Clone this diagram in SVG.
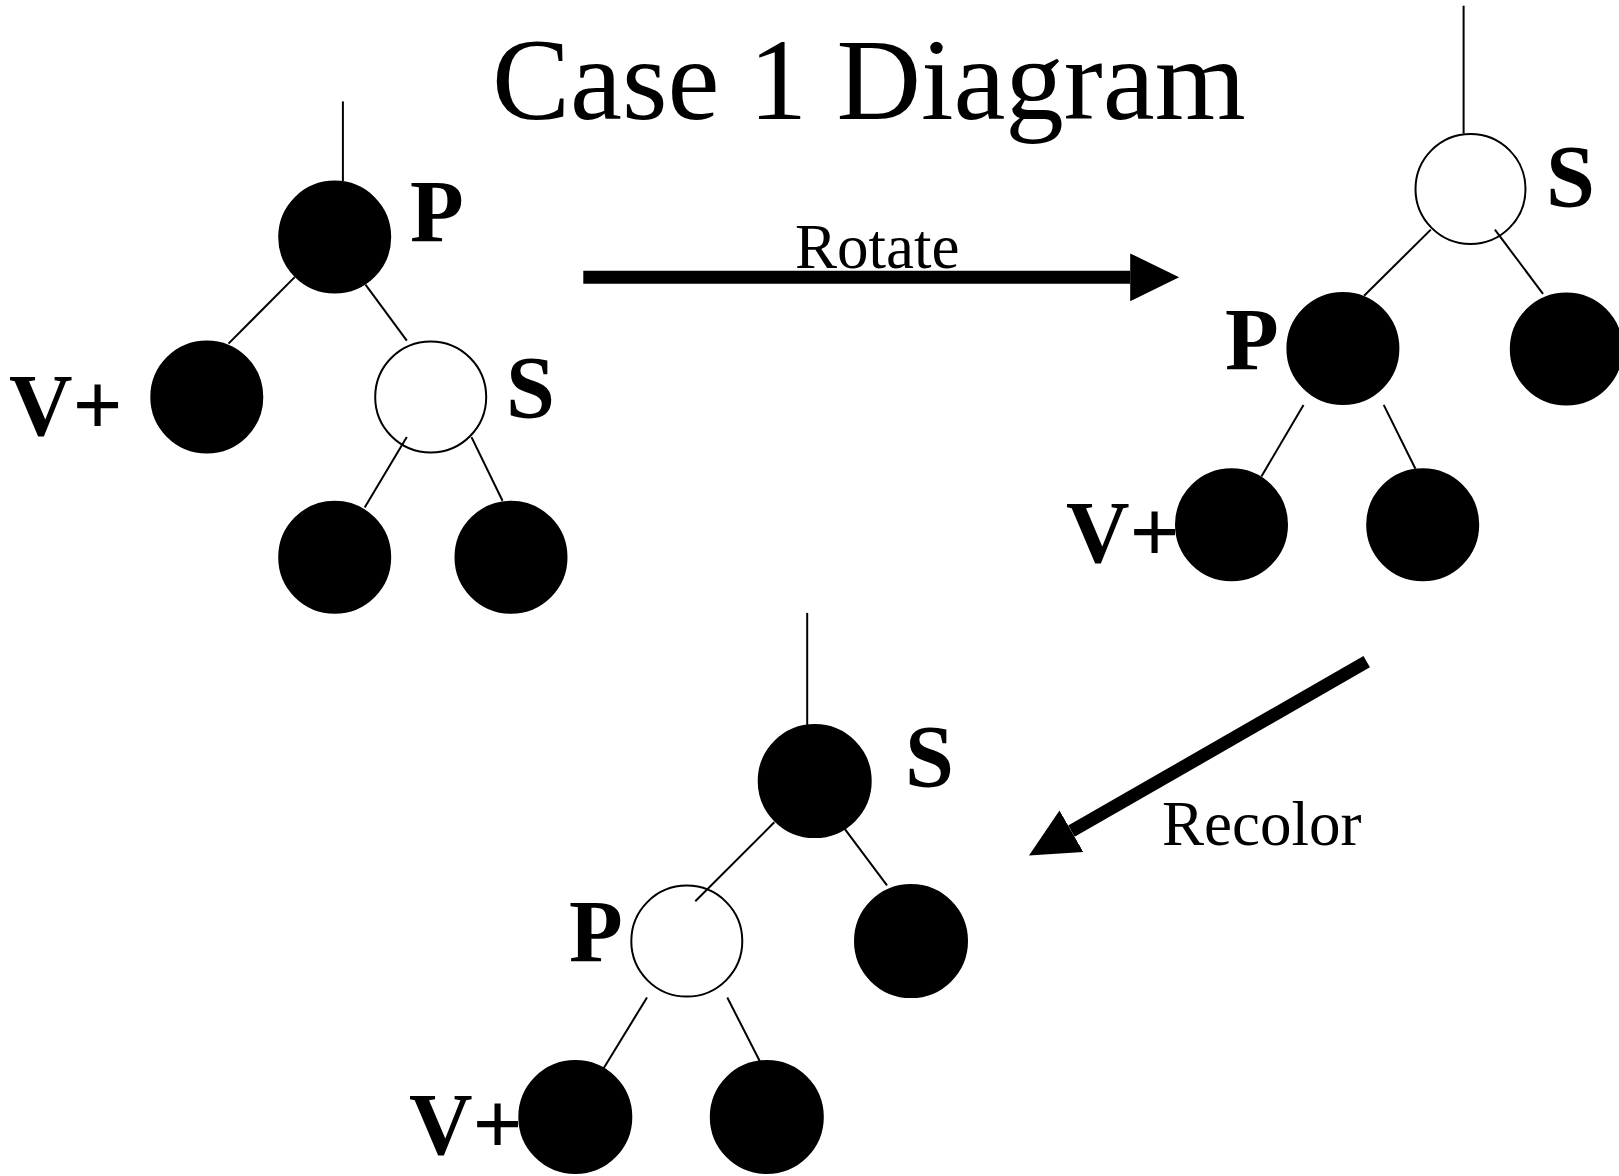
<svg xmlns="http://www.w3.org/2000/svg" width="1619" height="1176" viewBox="0 0 1619 1176">
  <style>
    .black { fill: #000; stroke: #000; stroke-width: 2; }
    .red { fill: #fff; stroke: #000; stroke-width: 2; }
    .edge { stroke: #000; stroke-width: 2; fill: none; }
    .label { font-family: "Liberation Serif", "Times New Roman", serif; font-weight: bold; font-size: 88px; fill: #000; }
    .step { font-family: "Liberation Serif", "Times New Roman", serif; font-size: 63px; fill: #000; }
    .title { font-family: "Liberation Serif", "Times New Roman", serif; font-size: 117px; fill: #000; }
    .bigarrow { stroke: #000; stroke-width: 13; fill: none; marker-end: url(#head); }
  </style>
  <defs>
    <marker id="head" markerUnits="userSpaceOnUse" markerWidth="50" markerHeight="50" viewBox="0 -23 46 46" refX="0" refY="0" orient="auto">
      <path d="M0,-22 L45,0 L0,22 Z" fill="#000"/>
    </marker>
  </defs>
  <rect width="1619" height="1176" fill="#fff"/>

  <text class="title" x="492" y="119">Case 1 Diagram</text>

  <!-- Tree before rotation -->
  <g id="t1-P"><circle class="black" cx="334.7" cy="237.1" r="55.5"/><text class="label" x="410" y="241">P</text></g>
  <g id="t1-V"><circle class="black" cx="206.8" cy="397" r="55.5"/><text class="label" x="9" y="435">V+</text></g>
  <g id="t1-S"><circle class="red" cx="430.7" cy="397" r="55.5"/><text class="label" x="506" y="417">S</text></g>
  <g id="t1-SL"><circle class="black" cx="334.7" cy="557.3" r="55.5"/></g>
  <g id="t1-SR"><circle class="black" cx="511" cy="557.3" r="55.5"/></g>

  <!-- Tree after rotation -->
  <g id="t2-S"><circle class="red" cx="1470.5" cy="189" r="55"/><text class="label" x="1546" y="206">S</text></g>
  <g id="t2-P"><circle class="black" cx="1342.9" cy="348.5" r="55.5"/><text class="label" x="1225" y="369">P</text></g>
  <g id="t2-SR"><circle class="black" cx="1566.3" cy="349" r="55.5"/></g>
  <g id="t2-V"><circle class="black" cx="1231.5" cy="524.7" r="55.5"/><text class="label" x="1066" y="562">V+</text></g>
  <g id="t2-SL"><circle class="black" cx="1422.7" cy="524.7" r="55.5"/></g>

  <!-- Tree after recolouring -->
  <g id="t3-S"><circle class="black" cx="814.7" cy="781.1" r="56"/><text class="label" x="905" y="786">S</text></g>
  <g id="t3-P"><circle class="red" cx="686.8" cy="941.1" r="55.5"/><text class="label" x="569" y="961">P</text></g>
  <g id="t3-SR"><circle class="black" cx="911" cy="941.1" r="56"/></g>
  <g id="t3-V"><circle class="black" cx="575.3" cy="1117" r="56"/><text class="label" x="409" y="1154">V+</text></g>
  <g id="t3-SL"><circle class="black" cx="766.8" cy="1117" r="56"/></g>

  <g id="connectors">
    <!-- tree 1 -->
    <line class="edge" x1="342.9" y1="101.4" x2="342.9" y2="181"/>
    <line class="edge" x1="294.7" y1="277.1" x2="228.5" y2="343.6"/>
    <line class="edge" x1="365.5" y1="284.6" x2="406.8" y2="340.7"/>
    <line class="edge" x1="406.8" y1="437.1" x2="364.7" y2="507.5"/>
    <line class="edge" x1="471.5" y1="437.1" x2="502.5" y2="500.7"/>
    <!-- tree 2 -->
    <line class="edge" x1="1463.6" y1="5.7" x2="1463.6" y2="133.5"/>
    <line class="edge" x1="1430.8" y1="229.6" x2="1364.1" y2="295.8"/>
    <line class="edge" x1="1494.9" y1="229.6" x2="1543" y2="293.9"/>
    <line class="edge" x1="1303.5" y1="404.9" x2="1261.4" y2="476.5"/>
    <line class="edge" x1="1383.7" y1="404.9" x2="1415.4" y2="468.8"/>
    <!-- tree 3 -->
    <line class="edge" x1="807.2" y1="612.9" x2="807.2" y2="725"/>
    <line class="edge" x1="774.3" y1="822.3" x2="695.3" y2="901.2"/>
    <line class="edge" x1="844.7" y1="828.9" x2="887" y2="885.4"/>
    <line class="edge" x1="647" y1="997.5" x2="603.5" y2="1068.4"/>
    <line class="edge" x1="727.3" y1="997.5" x2="759.7" y2="1061"/>

    <!-- step arrows -->
    <line class="bigarrow" x1="583.3" y1="277.3" x2="1130.2" y2="277.3"/>
    <text class="step" x="795" y="268">Rotate</text>
    <line class="bigarrow" x1="1366.7" y1="661.7" x2="1071.4" y2="831.2"/>
    <text class="step" x="1162" y="845">Recolor</text>
  </g>
</svg>
